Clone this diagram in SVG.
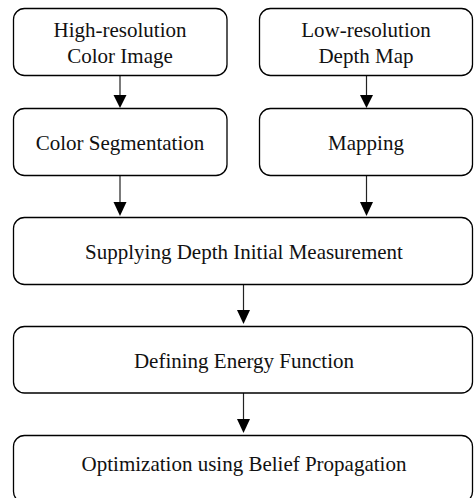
<svg xmlns="http://www.w3.org/2000/svg" width="474" height="498" viewBox="0 0 474 498">
<style>
.box{fill:#fff;stroke:#000;stroke-width:1.3}
.t{font-family:"Liberation Serif","Times New Roman",serif;font-size:21px;fill:#111;text-anchor:middle}
.ln{stroke:#222;stroke-width:1.2;fill:none}
.hd{fill:#000}
</style>
<rect width="474" height="498" fill="#fff"/>
<g id="connectors">
<line class="ln" x1="120" y1="76" x2="120" y2="96"/>
<polygon class="hd" points="113.5,95 126.5,95 120,108"/>
<line class="ln" x1="366.5" y1="76" x2="366.5" y2="96"/>
<polygon class="hd" points="360,95 373,95 366.5,108"/>
<line class="ln" x1="120" y1="176" x2="120" y2="203"/>
<polygon class="hd" points="113.5,202 126.5,202 120,216"/>
<line class="ln" x1="366.5" y1="176" x2="366.5" y2="203"/>
<polygon class="hd" points="360,202 373,202 366.5,216"/>
<line class="ln" x1="243.5" y1="285" x2="243.5" y2="311"/>
<polygon class="hd" points="237,310 250,310 243.5,324"/>
<line class="ln" x1="243.5" y1="393" x2="243.5" y2="420"/>
<polygon class="hd" points="237,419 250,419 243.5,433"/>
</g>
<g id="n1"><rect class="box" x="13.5" y="8.5" width="213.5" height="67" rx="11"/>
<text class="t" x="120" y="37">High-resolution</text><text class="t" x="120" y="63">Color Image</text></g>
<g id="n2"><rect class="box" x="259.5" y="8.5" width="213" height="67" rx="11"/>
<text class="t" x="366" y="37">Low-resolution</text><text class="t" x="366" y="63">Depth Map</text></g>
<g id="n3"><rect class="box" x="13.5" y="108.5" width="213.5" height="67" rx="11"/>
<text class="t" x="120" y="150">Color Segmentation</text></g>
<g id="n4"><rect class="box" x="259.5" y="108.5" width="213" height="67" rx="11"/>
<text class="t" x="366" y="150">Mapping</text></g>
<g id="n5"><rect class="box" x="13.5" y="217.5" width="459" height="67" rx="11"/>
<text class="t" x="244" y="259">Supplying Depth Initial Measurement</text></g>
<g id="n6"><rect class="box" x="13.5" y="326.5" width="459" height="66.5" rx="11"/>
<text class="t" x="244" y="368">Defining Energy Function</text></g>
<g id="n7"><rect class="box" x="13.5" y="435.5" width="459" height="67" rx="11"/>
<text class="t" x="244" y="471">Optimization using Belief Propagation</text></g>
</svg>
